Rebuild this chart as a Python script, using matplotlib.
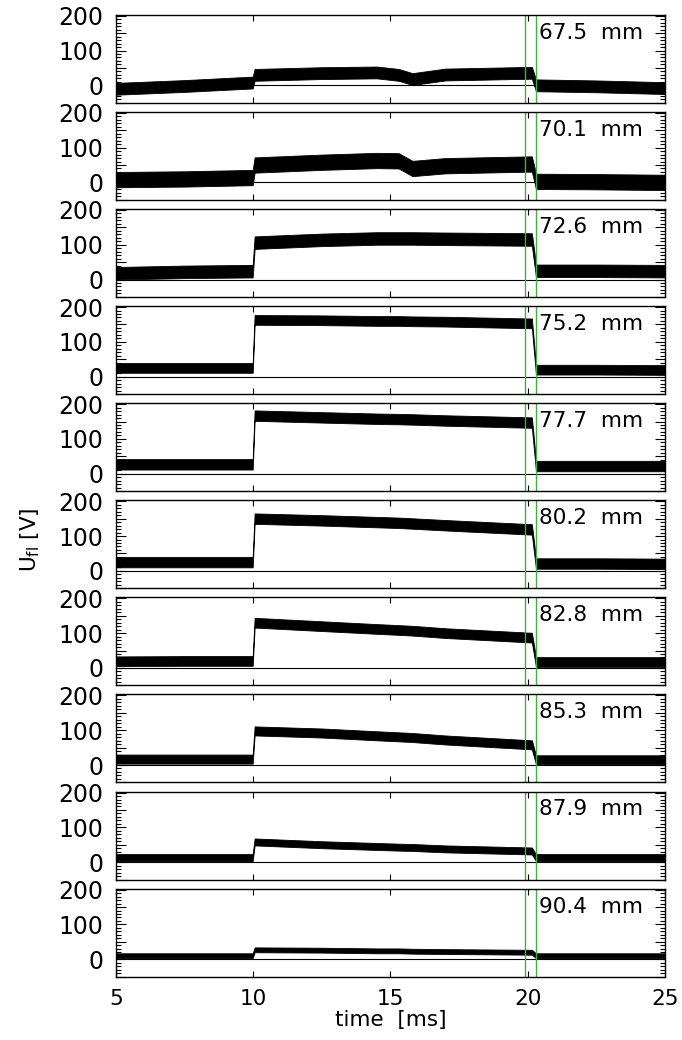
import matplotlib
matplotlib.use("Agg")
from matplotlib import pyplot as plt
from matplotlib.ticker import MultipleLocator, FuncFormatter

import numpy as np

plt.rcParams['font.family'] = ['DejaVu Sans']

# probe positions, one panel each
positions = ['67.5  mm', '70.1  mm', '72.6  mm', '75.2  mm', '77.7  mm',
             '80.2  mm', '82.8  mm', '85.3  mm', '87.9  mm', '90.4  mm']

t_knots = [5, 7.5, 9.98, 10.05, 12.5, 14.5, 15.3, 15.8, 17, 20.15, 20.3, 22.5, 25]

# mean floating potential [V] at t_knots, per panel
u_67_5 = [-10, -2, 8, 30, 35, 37, 30, 18, 31, 36, 0, -3, -8]
u_70_1 = [8, 10, 14, 50, 58, 63, 62, 40, 48, 53, 3, 2, 0]
u_72_6 = [18, 22, 24, 106, 114, 118, 118, 118, 117, 115, 25, 25, 24]
u_75_2 = [25, 25, 25, 163, 162, 160, 160, 159, 158, 153, 20, 20, 19]
u_77_7 = [27, 27, 27, 167, 162, 158, 157, 156, 153, 147, 22, 22, 22]
u_80_2 = [25, 25, 25, 150, 145, 140, 138, 136, 131, 119, 21, 21, 20]
u_82_8 = [19, 20, 20, 130, 120, 112, 109, 107, 100, 87, 17, 17, 17]
u_85_3 = [17, 17, 17, 98, 92, 84, 81, 79, 72, 58, 15, 15, 15]
u_87_9 = [13, 13, 13, 58, 50, 45, 43, 42, 38, 32, 13, 13, 13]
u_90_4 = [10, 10, 10, 27, 26, 24, 24, 23, 22, 20, 10, 10, 10]

# half width of the noise band [V]
noise = [17, 22, 18, 14, 15, 15, 14, 13, 10, 7]

# marker times [ms]
t_marks = [19.9, 20.3]

traces = [u_67_5, u_70_1, u_72_6, u_75_2, u_77_7,
          u_80_2, u_82_8, u_85_3, u_87_9, u_90_4]

W, H = 682, 1040
fig = plt.figure(figsize=(W / 100, H / 100), dpi=100)

left, right = 116, 665
top0, pitch, height = 14.7, 97.1, 88

t = np.array(t_knots)
axes = []
for i, (u, w, lab) in enumerate(zip(traces, noise, positions)):
    top = top0 + i * pitch
    ax = fig.add_axes([left / W, 1 - (top + height) / H,
                       (right - left) / W, height / H])
    u = np.array(u)
    ax.fill_between(t, u - w, u + w, color='black', lw=0.6,
                    edgecolor='black')
    ax.axhline(0, color='black', lw=0.8)
    for tm in t_marks:
        ax.axvline(tm, color='#3cb43c', lw=1.0)

    ax.set_xlim(5, 25)
    ax.set_ylim(-50, 203)
    ax.xaxis.set_major_locator(MultipleLocator(5))
    ax.yaxis.set_major_locator(MultipleLocator(50))
    ax.yaxis.set_minor_locator(MultipleLocator(10))
    ax.yaxis.set_major_formatter(
        FuncFormatter(lambda v, p: '%d' % v if v % 100 == 0 else ''))
    ax.tick_params(axis='both', which='both', direction='in',
                   top=True, right=True, width=0.8)
    ax.tick_params(axis='y', which='major', length=7, labelsize=17, pad=9)
    ax.tick_params(axis='y', which='minor', length=3.5)
    ax.tick_params(axis='x', which='major', length=4, pad=9, labelsize=15.5)
    if i < len(traces) - 1:
        ax.tick_params(axis='x', labelbottom=False)
    for s in ax.spines.values():
        s.set_linewidth(1.0)

    ax.text(0.77, 0.91, lab, transform=ax.transAxes, ha='left', va='top',
            fontsize=15.5)
    axes.append(ax)

axes[-1].set_xlabel('time  [ms]', fontsize=15.5, labelpad=1)
fig.text(30 / W, 1 - 540 / H, r'U$_{\rm fl}$ [V]', rotation=90,
         ha='center', va='center', fontsize=15.5)

fig.savefig('out.png', dpi=100)
